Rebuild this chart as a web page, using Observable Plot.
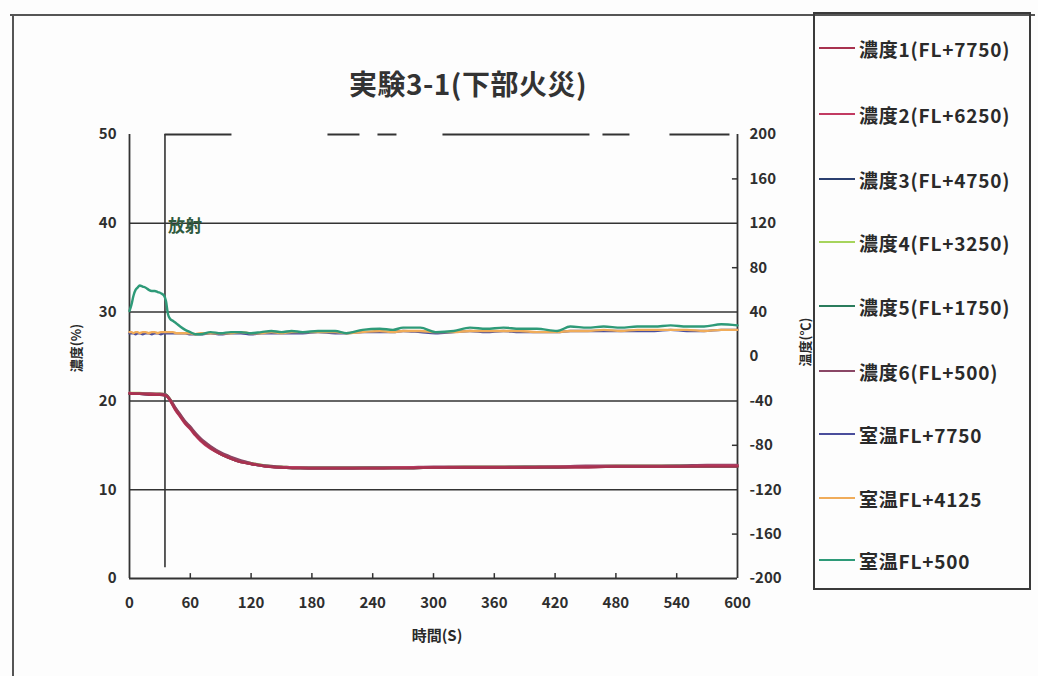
<!DOCTYPE html>
<html>
<head>
<meta charset="utf-8">
<script src="https://cdn.jsdelivr.net/npm/d3@7"></script>
<script src="https://cdn.jsdelivr.net/npm/@observablehq/plot@0.6"></script>
<style>
  html, body { margin: 0; padding: 0; background: #fff; }
  #wrap { position: relative; width: 1038px; height: 676px; overflow: hidden; background: #fdfdfd;
          font-family: "Noto Sans CJK JP", "Noto Sans", sans-serif; color: #2a2a2a; }
  #wrap svg { position: absolute; left: 0; top: 0; }
  .abs { position: absolute; white-space: nowrap; font-weight: bold; }
  .rot { transform: translate(-50%, -50%) rotate(-90deg); }
  #legend { position: absolute; left: 813px; top: 12px; width: 218px; height: 578px; border: 2px solid #3a3a3a; box-sizing: border-box; }
  .item { position: absolute; left: 4px; height: 24px; display: flex; align-items: center; }
  .sw { width: 36px; height: 0; border-top: 2.5px solid; margin-right: 4px; }
  .lab { font-weight: bold; font-size: 19px; color: #2a2a2a; letter-spacing: 0.8px; }
  #frameL { position: absolute; left: 12px; top: 15px; width: 0; height: 680px; border-left: 2px solid #555; }
  #frameT { position: absolute; left: 10px; top: 14px; width: 1025px; height: 0; border-top: 2px solid #555; }
</style>
</head>
<body>
<div id="wrap">
  <div id="frameL"></div>
  <div id="frameT"></div>
</div>
<script>
// ---------- data ----------
const title = "実験3-1(下部火災)";
const xLabel = "時間(S)";
const yLabel = "濃度(%)";
const y2Label = "温度(℃)";
const dischargeLabel = "放射";
const dischargeTime = 35;

const timeTicks = [0, 60, 120, 180, 240, 300, 360, 420, 480, 540, 600];
const concTicks = [0, 10, 20, 30, 40, 50];
const tempTicks = [-200, -160, -120, -80, -40, 0, 40, 80, 120, 160, 200];

// concentration (%) series
const concTime = [0, 10, 20, 30, 36, 40, 45, 50, 55, 60, 65, 70, 80, 90, 100, 110, 120, 135, 150, 165, 180, 210, 240, 270, 300, 330, 360, 390, 420, 450, 480, 510, 540, 570, 600];
const conc1 = [20.8, 20.8, 20.7, 20.7, 20.6, 20.1, 19.1, 18.3, 17.5, 16.9, 16.2, 15.6, 14.7, 14.0, 13.5, 13.1, 12.9, 12.6, 12.5, 12.4, 12.4, 12.4, 12.4, 12.4, 12.5, 12.5, 12.5, 12.5, 12.5, 12.5, 12.6, 12.6, 12.6, 12.6, 12.6];
const conc2 = [20.9, 20.8, 20.8, 20.7, 20.6, 20.0, 19.0, 18.2, 17.4, 16.8, 16.1, 15.5, 14.6, 14.0, 13.5, 13.1, 12.9, 12.6, 12.5, 12.5, 12.4, 12.4, 12.4, 12.5, 12.5, 12.5, 12.5, 12.5, 12.6, 12.6, 12.6, 12.6, 12.6, 12.7, 12.7];
const conc3 = [20.8, 20.8, 20.7, 20.7, 20.6, 20.1, 19.2, 18.4, 17.6, 17.0, 16.3, 15.7, 14.8, 14.1, 13.6, 13.2, 12.9, 12.7, 12.5, 12.5, 12.4, 12.4, 12.5, 12.5, 12.5, 12.5, 12.5, 12.6, 12.6, 12.6, 12.6, 12.6, 12.7, 12.7, 12.7];
const conc4 = [20.9, 20.9, 20.8, 20.8, 20.7, 20.2, 19.2, 18.4, 17.6, 17.0, 16.3, 15.7, 14.8, 14.1, 13.6, 13.2, 13.0, 12.7, 12.6, 12.5, 12.5, 12.5, 12.5, 12.5, 12.5, 12.6, 12.6, 12.6, 12.6, 12.6, 12.7, 12.7, 12.7, 12.7, 12.7];
const conc5 = [20.8, 20.8, 20.8, 20.7, 20.7, 20.1, 19.1, 18.3, 17.5, 16.9, 16.2, 15.6, 14.7, 14.0, 13.5, 13.1, 12.9, 12.6, 12.5, 12.4, 12.4, 12.4, 12.4, 12.4, 12.5, 12.5, 12.5, 12.5, 12.5, 12.6, 12.6, 12.6, 12.6, 12.6, 12.6];
const conc6 = [20.9, 20.8, 20.8, 20.8, 20.7, 20.2, 19.3, 18.5, 17.7, 17.1, 16.4, 15.8, 14.9, 14.2, 13.7, 13.3, 13.0, 12.7, 12.6, 12.5, 12.5, 12.5, 12.5, 12.5, 12.6, 12.6, 12.6, 12.6, 12.6, 12.7, 12.7, 12.7, 12.7, 12.8, 12.8];

// room temperature (°C) series
const tempTime = [0, 2, 4, 6, 8, 10, 13, 16, 19, 22, 25, 28, 31, 34, 36, 38, 40, 43, 46, 50, 55, 60, 65, 70, 80, 90, 100, 110, 120, 130, 140, 150, 160, 171, 186, 203, 214, 230, 247, 260, 270, 287, 302, 320, 336, 352, 369, 385, 402, 422, 435, 452, 468, 485, 501, 518, 534, 550, 567, 584, 600];
const temp7750 = [21, 21, 21, 20, 21, 21, 20, 21, 21, 20, 21, 21, 20, 21, 21, 21, 21, 21, 21, 21, 21, 20, 20, 20, 21, 20, 21, 21, 20, 21, 21, 21, 21, 21, 22, 21, 21, 22, 22, 22, 23, 22, 21, 22, 23, 22, 23, 22, 22, 22, 23, 23, 23, 23, 23, 23, 24, 23, 23, 24, 24];
const temp4125 = [22, 22, 21, 22, 22, 21, 22, 22, 21, 22, 22, 21, 22, 22, 22, 22, 22, 22, 21, 21, 21, 21, 20, 21, 21, 21, 21, 22, 21, 21, 22, 21, 22, 22, 22, 22, 21, 22, 23, 22, 23, 23, 22, 22, 23, 23, 23, 23, 22, 22, 23, 23, 24, 23, 24, 24, 24, 24, 23, 24, 24];
const temp500  = [41, 47, 55, 60, 62, 64, 63, 62, 60, 59, 59, 58, 57, 55, 50, 38, 34, 32, 30, 27, 24, 22, 20, 20, 22, 21, 22, 22, 21, 22, 23, 22, 23, 22, 23, 23, 21, 24, 25, 24, 26, 26, 22, 23, 26, 25, 26, 25, 25, 23, 27, 26, 27, 26, 27, 27, 28, 27, 27, 29, 28];

const seriesNames = ["濃度1(FL+7750)", "濃度2(FL+6250)", "濃度3(FL+4750)", "濃度4(FL+3250)", "濃度5(FL+1750)", "濃度6(FL+500)", "室温FL+7750", "室温FL+4125", "室温FL+500"];
const seriesColors = ["#a8324f", "#c23a62", "#2b3f70", "#a6d45c", "#2a7c5c", "#8a4766", "#4a4e9c", "#f0ac5a", "#2e9a78"];

// ---------- build ----------
const tempToConc = d3.scaleLinear([-200, 200], [0, 50]);
const concSeries = [conc1, conc2, conc3, conc4, conc5, conc6];
const tempSeries = [temp7750, temp4125, temp500];

const rows = [];
concSeries.forEach((arr, i) => arr.forEach((v, j) => rows.push({name: seriesNames[i], t: concTime[j], y: v})));
tempSeries.forEach((arr, i) => arr.forEach((v, j) => rows.push({name: seriesNames[6 + i], t: tempTime[j], y: tempToConc(v)})));

// draw order (last on top)
const drawOrder = [6, 7, 8, 2, 3, 4, 5, 1, 0];

const font = {fontSize: 15, fontWeight: "bold", fill: "#2e2e2e"};

const chart = Plot.plot({
  width: 1038,
  height: 676,
  marginLeft: 129,
  marginRight: 301,
  marginTop: 134,
  marginBottom: 98,
  x: {domain: [0, 600]},
  y: {domain: [0, 50]},
  style: {fontFamily: "'Noto Sans CJK JP', sans-serif", background: "transparent", color: "#2e2e2e"},
  marks: [
    Plot.ruleY(concTicks.slice(1, -1), {stroke: "#333", strokeWidth: 1.5}),
    Plot.ruleY([0], {stroke: "#333", strokeWidth: 2}),
    Plot.ruleX([0], {stroke: "#333", strokeWidth: 1.8}),
    Plot.ruleX([600], {stroke: "#333", strokeWidth: 1.8}),
    Plot.ruleY([50], {x1: dischargeTime, x2: 600, stroke: "#333", strokeWidth: 1.8, strokeDasharray: "67,96,32,18,19,46,147,13,27,40,60"}),
    Plot.ruleX(timeTicks.slice(1, -1), {y1: 0, y2: 0.55, stroke: "#333", strokeWidth: 1.5}),
    Plot.ruleY([160, 80, -80, -160], {y: d => tempToConc(d), x1: 595, x2: 600, stroke: "#333", strokeWidth: 1.5}),
    Plot.ruleX([dischargeTime], {y1: 1.2, y2: 50, stroke: "#333", strokeWidth: 1.6}),
    Plot.text([dischargeLabel], {x: dischargeTime, y: 40, text: d => d, dx: 3, dy: 3, textAnchor: "start", fontSize: 17, fontWeight: "bold", fill: "#2f5a3e"}),
    ...drawOrder.map(i => Plot.line(rows.filter(r => r.name === seriesNames[i]), {x: "t", y: "y", stroke: seriesColors[i], strokeWidth: 2.4, curve: "monotone-x"})),
    Plot.axisY(concTicks, {tickSize: 0, tickPadding: 13, label: null, ...font}),
    Plot.axisX(timeTicks, {tickSize: 0, tickPadding: 19, label: null, ...font}),
    Plot.text(tempTicks, {x: 600, y: d => tempToConc(d), text: d => String(d), dx: 12, textAnchor: "start", ...font})
  ]
});
const wrap = document.getElementById("wrap");
wrap.appendChild(chart);

function addText(txt, cls, styles) {
  const d = document.createElement("div");
  d.className = "abs " + cls;
  d.textContent = txt;
  Object.assign(d.style, styles);
  wrap.appendChild(d);
}
addText(title, "", {left: "468px", top: "83px", transform: "translate(-50%,-50%)", fontSize: "28px", letterSpacing: "0.5px", color: "#333"});
addText(xLabel, "", {left: "437px", top: "634px", transform: "translate(-50%,-50%)", fontSize: "15px"});
addText(yLabel, "rot", {left: "75px", top: "348px", fontSize: "13px"});
addText(y2Label, "rot", {left: "804px", top: "342px", fontSize: "13px"});

const legend = document.createElement("div");
legend.id = "legend";
const itemY = [34, 100, 165, 228, 292, 357, 420, 484, 546];
seriesNames.forEach((n, i) => {
  const it = document.createElement("div");
  it.className = "item";
  it.style.top = (itemY[i] - 12) + "px";
  const sw = document.createElement("div");
  sw.className = "sw";
  sw.style.borderTopColor = seriesColors[i];
  const lb = document.createElement("span");
  lb.className = "lab";
  lb.textContent = n;
  it.appendChild(sw);
  it.appendChild(lb);
  legend.appendChild(it);
});
wrap.appendChild(legend);
</script>
</body>
</html>
